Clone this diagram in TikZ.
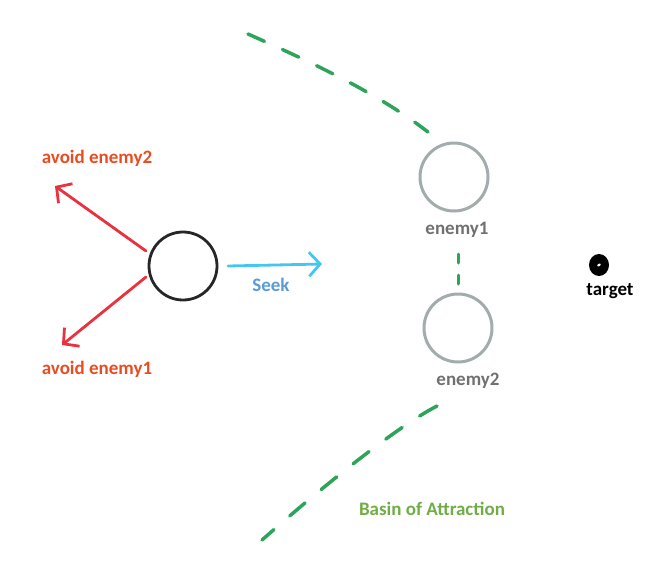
\documentclass[tikz,border=0pt]{standalone}
\usepackage{fontspec}
\setmainfont{Carlito}
\usetikzlibrary{arrows.meta}
\definecolor{gcirc}{HTML}{A3ACAC}
\definecolor{glab}{HTML}{707070}
\definecolor{redarr}{HTML}{E8323F}
\definecolor{redtxt}{HTML}{E84C22}
\definecolor{seekarr}{HTML}{45C6F2}
\definecolor{seektxt}{HTML}{5B9BD5}
\definecolor{basin}{HTML}{2EA35A}
\definecolor{basintxt}{HTML}{70AD47}
\tikzset{
  lbl/.style={font=\fontsize{19}{21}\selectfont\bfseries, inner sep=0pt},
  agentc/.style={circle, draw=black!85, line width=2.8pt, minimum size=68pt, inner sep=0pt},
  enemyc/.style={circle, draw=gcirc, line width=3pt, minimum size=68pt, inner sep=0pt},
  redarrow/.style={draw=redarr, line width=2.8pt, line cap=round, -{Straight Barb[length=11pt,width=24pt,line width=2.8pt]}},
  seekarrow/.style={draw=seekarr, line width=2.8pt, line cap=round, -{Straight Barb[length=11pt,width=24pt,line width=2.8pt]}},
  basinline/.style={draw=basin, line width=3.5pt, line cap=round},
}
\begin{document}
\begin{tikzpicture}[x=1pt,y=-1pt]
\useasboundingbox (0,0) rectangle (661,568);
\node[agentc] (agent) at (183,266) {};
\node[enemyc] (e1) at (454,177) {};
\node[enemyc] (e2) at (458,328) {};
\node[lbl, text=glab] (e1l) at (457,230) {enemy1};
\node[lbl, text=glab] (e2l) at (468,381) {enemy2};
\fill[black] (599,265) ellipse (10pt and 11pt);
\node[circle, inner sep=0pt, minimum size=20pt] (target) at (599,265) {};
\fill[white, rotate around={30:(599,265)}] (599,265) ellipse (2pt and 1.2pt);
\node[lbl, text=black] (tl) at (610,291) {target};
\coordinate (s0) at (228,266);
\coordinate (s1) at (322,264);
\draw[seekarrow] (s0) -- (s1);
\node[lbl, text=seektxt] (seek) at (271,285) {Seek};
\coordinate (a0) at (146,251);
\coordinate (a1) at (55,186);
\coordinate (b0) at (146,277);
\coordinate (b1) at (62,345);
\draw[redarrow] (a0) -- (a1);
\draw[redarrow] (b0) -- (b1);
\node[lbl, text=redtxt] (av2) at (97,158) {avoid enemy2};
\node[lbl, text=redtxt] (av1) at (97,369) {avoid enemy1};
\coordinate (t0) at (248,34);
\coordinate (t1) at (428,132);
\draw[basinline, dash pattern=on 18pt off 19.8pt] (t0) .. controls (320,66) and (380,95) .. (t1);
\coordinate (v0) at (458,254);
\coordinate (v1) at (458,288);
\draw[basinline, dash pattern=on 9pt off 12pt, line width=3pt] (v0) -- (v1);
\coordinate (w0) at (437,406);
\coordinate (w1) at (262,540);
\draw[basinline, dash pattern=on 20pt off 21pt] (w0) .. controls (400,425) and (330,480) .. (w1);
\node[lbl, text=basintxt] (basin) at (432,509) {Basin of Attraction};
\end{tikzpicture}
\end{document}
